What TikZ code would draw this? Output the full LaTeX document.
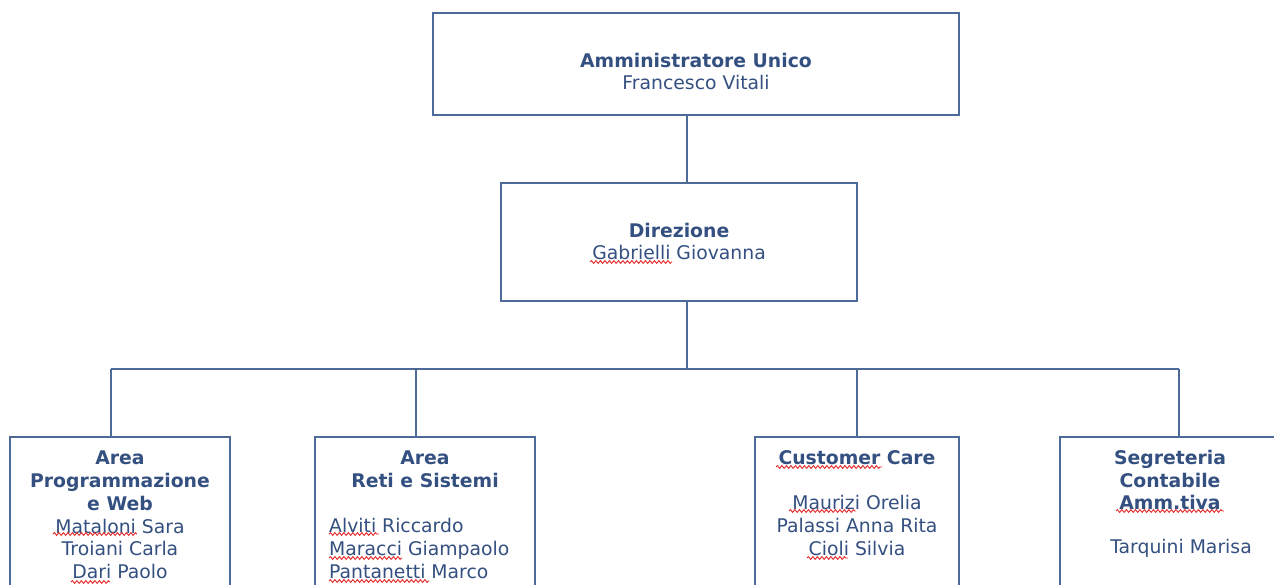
\documentclass[tikz,border=0pt]{standalone}
\usepackage{fontspec}
\setmainfont{DejaVu Sans}
\usetikzlibrary{decorations.pathmorphing}
\definecolor{boxline}{RGB}{78,106,152}
\definecolor{txt}{RGB}{52,80,128}
\definecolor{squig}{RGB}{230,40,40}
\tikzset{
  box/.style={draw=boxline, line width=1.8pt, fill=white, inner sep=0pt},
  conn/.style={draw=boxline, line width=1.8pt},
  lbl/.style={text=txt, inner sep=0pt, align=center, font=\fontsize{18.8}{22.7}\selectfont},
  lbll/.style={lbl, align=left},
  spell/.style={draw=squig, line width=0.9pt, decorate, decoration={snake, amplitude=1.4pt, segment length=4.5pt}}
}
\begin{document}
\begin{tikzpicture}[x=1pt,y=-1pt]
\useasboundingbox (0,0) rectangle (1274,585);
\clip (0,0) rectangle (1274,585);
\fill[white] (0,0) rectangle (1274,585);
% boxes
\node[box, minimum width=526pt, minimum height=102pt] (top) at (696,64) {};
\node[box, minimum width=356pt, minimum height=118pt] (dir) at (679,242) {};
\node[box, minimum width=220pt, minimum height=200pt] (b1) at (120,537) {};
\node[box, minimum width=220pt, minimum height=200pt] (b2) at (425,537) {};
\node[box, minimum width=204pt, minimum height=200pt] (b3) at (857,537) {};
\node[box, minimum width=240pt, minimum height=200pt] (b4) at (1180,537) {};
% junction coordinates
\coordinate (j) at (687,369);
\coordinate (d1) at (111,369);
\coordinate (d2) at (416,369);
\coordinate (d3) at (857,369);
\coordinate (d4) at (1179,369);
% connectors
\draw[conn] (top.south -| j) -- (dir.north -| j);
\draw[conn] (dir.south -| j) -- (j);
\draw[conn] (d1) -- (d4);
\draw[conn] (d1) -- (b1.north -| d1);
\draw[conn] (d2) -- (b2.north -| d2);
\draw[conn] (d3) -- (b3.north -| d3);
\draw[conn] (d4) -- (b4.north -| d4);
% texts
\node[lbl] (ttop) at (696,71.5) {{\bfseries Amministratore Unico}\\Francesco Vitali};
\node[lbl] (tdir) at (679,241.5) {{\bfseries Direzione}\\Gabrielli Giovanna};
\node[lbl] (t1) at (120,515) {{\bfseries Area}\\{\bfseries Programmazione}\\{\bfseries e Web}\\Mataloni Sara\\Troiani Carla\\Dari Paolo};
\node[lbl] (t2a) at (425,469) {{\bfseries Area}\\{\bfseries Reti e Sistemi}};
\node[lbll, anchor=west] (t2b) at (329,548.5) {Alviti Riccardo\\Maracci Giampaolo\\Pantanetti Marco};
\node[lbl] (t3a) at (857,458) {\bfseries Customer Care};
\node[lbl] (t3b) at (857,525.5) {Maurizi Orelia\\Palassi Anna Rita\\Cioli Silvia};
\node[lbl] (t4a) at (1170,480) {{\bfseries Segreteria}\\{\bfseries Contabile}\\{\bfseries Amm.tiva}};
\node[lbl] (t4b) at (1181,548) {Tarquini Marisa};
% spell-check underlines
\draw[spell] (590,262) -- (672,262);
\draw[spell] (53,534) -- (137,534);
\draw[spell] (71,582) -- (110,582);
\draw[spell] (329,534) -- (379,534);
\draw[spell] (329,558) -- (402,558);
\draw[spell] (329,581) -- (429,581);
\draw[spell] (776,467) -- (882,467);
\draw[spell] (789,511) -- (856,511);
\draw[spell] (807,558) -- (848,558);
\draw[spell] (1116,511) -- (1224,511);
\end{tikzpicture}
\end{document}
